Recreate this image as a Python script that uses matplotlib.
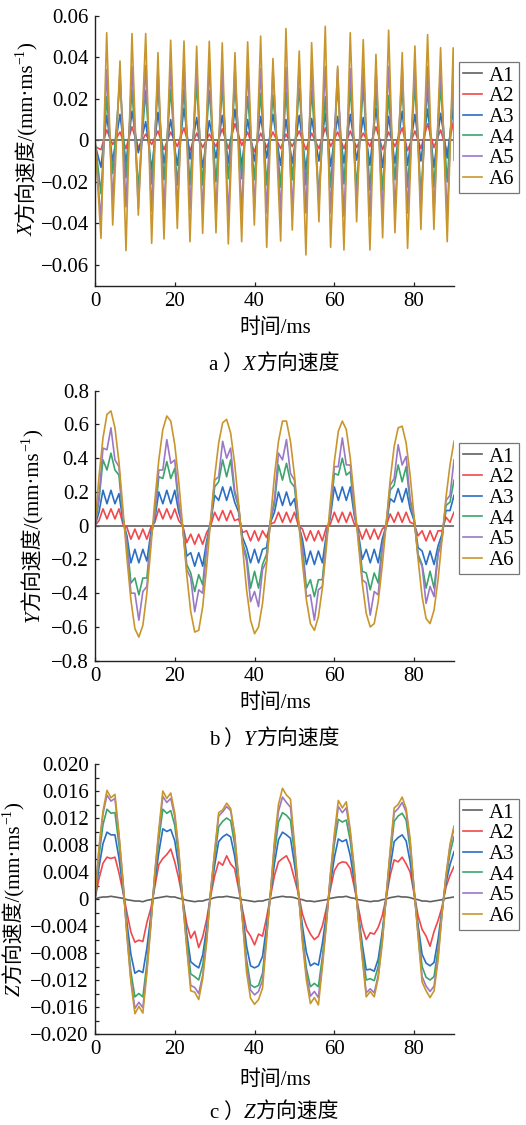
import matplotlib
matplotlib.use("Agg")
import matplotlib.pyplot as plt

FAMILY = ["Liberation Serif", "Noto Sans CJK SC", "DejaVu Serif"]
plt.rcParams.update({
    "font.family": FAMILY,
    "font.size": 15,
    "axes.unicode_minus": True,
    "lines.solid_joinstyle": "round",
})

W, H = 526, 1125
NAMES = ["A1", "A2", "A3", "A4", "A5", "A6"]
COLORS = ["#606060", "#F0484B", "#2A6EC6", "#3BA56B", "#9A78C8", "#C8962D"]
LW = 1.2

# ---------------- a) X velocity: read at each trough / crest ----------------
tx_start, tx_end = 0.0, 90.0
tx_min = [1.50, 4.44, 7.77, 10.86, 14.21, 17.29, 20.63, 23.81, 26.99, 30.33,
          33.42, 36.77, 39.94, 43.05, 46.54, 49.45, 52.88, 56.14, 59.07, 62.41,
          65.59, 68.92, 72.11, 75.19, 78.36, 81.70, 84.96, 88.30]
tx_max = [2.93, 6.27, 9.27, 12.71, 15.79, 18.97, 22.31, 25.49, 28.65, 31.90,
          35.09, 38.27, 41.53, 44.61, 47.87, 51.20, 54.31, 57.73, 60.83, 63.99,
          67.25, 70.43, 73.61, 77.02, 80.20, 83.38, 86.64, 89.80]

vx6_min = [-0.0472, -0.0408, -0.0531, -0.0360, -0.0496, -0.0475, -0.0424, -0.0488, -0.0448, -0.0445,
           -0.0499, -0.0488, -0.0408, -0.0515, -0.0485, -0.0432, -0.0552, -0.0392, -0.0515, -0.0528,
           -0.0392, -0.0528, -0.0469, -0.0445, -0.0520, -0.0429, -0.0429, -0.0488]
vx6_max = [0.0518, 0.0382, 0.0514, 0.0514, 0.0422, 0.0482, 0.0478, 0.0453, 0.0477, 0.0469,
           0.0422, 0.0474, 0.0502, 0.0394, 0.0538, 0.0430, 0.0470, 0.0549, 0.0357, 0.0518,
           0.0485, 0.0414, 0.0530, 0.0422, 0.0454, 0.0509, 0.0446, 0.0445]
vx5_min = [-0.0390, -0.0290, -0.0320, -0.0330, -0.0340, -0.0335, -0.0330, -0.0335, -0.0350, -0.0350,
           -0.0365, -0.0350, -0.0320, -0.0350, -0.0350, -0.0335, -0.0350, -0.0310, -0.0350, -0.0365,
           -0.0310, -0.0365, -0.0350, -0.0335, -0.0350, -0.0345, -0.0345, -0.0365]
vx5_max = [0.0340, 0.0330, 0.0355, 0.0360, 0.0345, 0.0350, 0.0355, 0.0360, 0.0360, 0.0340,
           0.0355, 0.0345, 0.0345, 0.0345, 0.0350, 0.0360, 0.0340, 0.0355, 0.0345, 0.0345,
           0.0350, 0.0340, 0.0355, 0.0355, 0.0355, 0.0355, 0.0350, 0.0350]
vx4_min = [-0.0257, -0.0160, -0.0180, -0.0230, -0.0210, -0.0190, -0.0215, -0.0215, -0.0215, -0.0200,
           -0.0185, -0.0185, -0.0190, -0.0215, -0.0225, -0.0190, -0.0215, -0.0260, -0.0225, -0.0210,
           -0.0230, -0.0240, -0.0240, -0.0190, -0.0225, -0.0265, -0.0225, -0.0200]
vx4_max = [0.0210, 0.0287, 0.0245, 0.0240, 0.0260, 0.0245, 0.0245, 0.0270, 0.0240, 0.0255,
           0.0260, 0.0210, 0.0226, 0.0218, 0.0234, 0.0250, 0.0240, 0.0210, 0.0260, 0.0255,
           0.0260, 0.0240, 0.0215, 0.0255, 0.0266, 0.0255, 0.0260, 0.0255]
vx3_min = [-0.0130, -0.0100, -0.0110, -0.0060, -0.0140, -0.0110, -0.0120, -0.0090, -0.0130, -0.0085,
           -0.0110, -0.0120, -0.0100, -0.0085, -0.0120, -0.0110, -0.0140, -0.0100, -0.0125, -0.0110,
           -0.0095, -0.0120, -0.0130, -0.0110, -0.0120, -0.0100, -0.0130, -0.0085]
vx3_max = [0.0120, 0.0125, 0.0140, 0.0090, 0.0135, 0.0100, 0.0155, 0.0110, 0.0095, 0.0120,
           0.0150, 0.0100, 0.0115, 0.0125, 0.0100, 0.0120, 0.0105, 0.0130, 0.0115, 0.0125,
           0.0110, 0.0155, 0.0115, 0.0140, 0.0125, 0.0150, 0.0130, 0.0155]
vx2_min = [-0.0045, -0.0020, -0.0040, -0.0035, -0.0020, -0.0045, -0.0030, -0.0050, -0.0035, -0.0030,
           -0.0040, -0.0025, -0.0055, -0.0035, -0.0040, -0.0030, -0.0045, -0.0040, -0.0030, -0.0040,
           -0.0035, -0.0030, -0.0045, -0.0030, -0.0050, -0.0040, -0.0035, -0.0060]
vx2_max = [0.0050, 0.0040, 0.0065, 0.0030, 0.0045, 0.0040, 0.0060, 0.0035, 0.0030, 0.0055,
           0.0080, 0.0040, 0.0035, 0.0040, 0.0030, 0.0045, 0.0035, 0.0060, 0.0040, 0.0045,
           0.0035, 0.0065, 0.0040, 0.0060, 0.0045, 0.0080, 0.0050, 0.0085]
vx_first = [0.0, -0.003, -0.002, 0.0, 0.0, 0.0]      # A1..A6 at t = 0
vx_last = [0.0, 0.006, 0.008, 0.012, 0.010, -0.0095]  # A1..A6 at t = 90

# ---------------- b) Y velocity, sampled every 1 ms ----------------
ty = list(range(0, 91))
vy6 = [0.00, 0.29, 0.52, 0.66, 0.68, 0.58, 0.38, 0.10, -0.19, -0.44,
       -0.61, -0.66, -0.59, -0.40, -0.13, 0.15, 0.39, 0.57, 0.65, 0.62,
       0.48, 0.26, -0.01, -0.29, -0.51, -0.63, -0.62, -0.48, -0.24, 0.04,
       0.29, 0.49, 0.61, 0.63, 0.55, 0.37, 0.13, -0.13, -0.38, -0.56,
       -0.64, -0.60, -0.46, -0.23, 0.04, 0.30, 0.50, 0.62, 0.62, 0.50,
       0.30, 0.04, -0.22, -0.44, -0.58, -0.62, -0.54, -0.37, -0.13, 0.14,
       0.38, 0.56, 0.62, 0.57, 0.40, 0.16, -0.10, -0.34, -0.52, -0.60,
       -0.58, -0.45, -0.24, 0.01, 0.27, 0.47, 0.58, 0.59, 0.49, 0.30,
       0.05, -0.20, -0.42, -0.55, -0.58, -0.50, -0.32, -0.08, 0.17, 0.36,
       0.50]
vy5 = [0.00, 0.17, 0.46, 0.45, 0.58, 0.39, 0.35, 0.06, -0.11, -0.40,
       -0.40, -0.56, -0.39, -0.36, -0.08, 0.07, 0.33, 0.33, 0.51, 0.37,
       0.39, 0.13, -0.01, -0.26, -0.31, -0.51, -0.38, -0.40, -0.13, 0.02,
       0.27, 0.29, 0.50, 0.40, 0.46, 0.21, 0.12, -0.11, -0.21, -0.45,
       -0.39, -0.48, -0.26, -0.21, 0.03, 0.16, 0.43, 0.39, 0.51, 0.31,
       0.27, 0.02, -0.14, -0.42, -0.41, -0.56, -0.38, -0.36, -0.08, 0.08,
       0.35, 0.35, 0.52, 0.36, 0.36, 0.09, -0.06, -0.32, -0.34, -0.53,
       -0.39, -0.41, -0.14, 0.01, 0.24, 0.28, 0.48, 0.36, 0.41, 0.16,
       0.05, -0.19, -0.24, -0.46, -0.36, -0.42, -0.17, -0.08, 0.15, 0.18,
       0.39]
vy4 = [0.00, 0.15, 0.39, 0.33, 0.43, 0.33, 0.30, 0.05, -0.09, -0.34,
       -0.31, -0.41, -0.31, -0.31, -0.07, 0.06, 0.29, 0.28, 0.38, 0.28,
       0.34, 0.12, -0.01, -0.23, -0.28, -0.39, -0.29, -0.35, -0.11, 0.02,
       0.23, 0.26, 0.39, 0.29, 0.39, 0.19, 0.11, -0.10, -0.18, -0.37,
       -0.27, -0.37, -0.23, -0.17, 0.03, 0.13, 0.36, 0.27, 0.37, 0.26,
       0.23, 0.02, -0.12, -0.37, -0.32, -0.42, -0.32, -0.32, -0.07, 0.07,
       0.31, 0.30, 0.40, 0.30, 0.32, 0.08, -0.05, -0.27, -0.28, -0.38,
       -0.28, -0.34, -0.12, 0.00, 0.21, 0.24, 0.36, 0.26, 0.35, 0.14,
       0.04, -0.17, -0.23, -0.37, -0.27, -0.37, -0.16, -0.07, 0.12, 0.14,
       0.27]
vy3 = [0.00, 0.08, 0.21, 0.13, 0.21, 0.13, 0.19, 0.03, -0.06, -0.22,
       -0.14, -0.22, -0.14, -0.21, -0.04, 0.04, 0.20, 0.13, 0.21, 0.13,
       0.21, 0.08, 0.00, -0.18, -0.16, -0.24, -0.16, -0.24, -0.09, 0.02,
       0.18, 0.15, 0.23, 0.15, 0.23, 0.14, 0.08, -0.07, -0.13, -0.22,
       -0.14, -0.22, -0.14, -0.13, 0.02, 0.08, 0.20, 0.12, 0.20, 0.12,
       0.16, 0.01, -0.08, -0.23, -0.15, -0.23, -0.15, -0.22, -0.05, 0.05,
       0.23, 0.15, 0.23, 0.15, 0.23, 0.06, -0.04, -0.20, -0.14, -0.22,
       -0.14, -0.22, -0.08, 0.00, 0.16, 0.14, 0.22, 0.14, 0.22, 0.10,
       0.03, -0.13, -0.15, -0.23, -0.15, -0.23, -0.12, -0.05, 0.09, 0.09,
       0.18]
vy2 = [0.00, 0.03, 0.10, 0.04, 0.10, 0.04, 0.10, 0.01, -0.01, -0.08,
       -0.02, -0.08, -0.02, -0.08, -0.01, 0.02, 0.10, 0.04, 0.10, 0.04,
       0.10, 0.03, 0.00, -0.10, -0.05, -0.11, -0.05, -0.11, -0.04, 0.00,
       0.08, 0.03, 0.09, 0.03, 0.09, 0.03, 0.04, -0.04, -0.03, -0.09,
       -0.03, -0.09, -0.03, -0.07, 0.01, 0.02, 0.08, 0.02, 0.08, 0.02,
       0.08, 0.00, -0.02, -0.09, -0.03, -0.09, -0.03, -0.09, -0.01, 0.01,
       0.08, 0.02, 0.08, 0.02, 0.08, 0.01, -0.01, -0.08, -0.02, -0.08,
       -0.02, -0.08, -0.02, 0.00, 0.07, 0.02, 0.08, 0.02, 0.08, 0.02,
       0.01, -0.06, -0.03, -0.09, -0.03, -0.09, -0.03, -0.03, 0.05, 0.02,
       0.08]
ty1, vy1 = [0, 90], [0.0, 0.0]

# ---------------- c) Z velocity, sampled every 1 ms, in 1e-4 mm/ms ----------------
tz = list(range(0, 91))
vz6 = [0, 76, 130, 161, 150, 155, 97, 28, -54, -123,
       -170, -159, -169, -109, -39, 40, 102, 160, 149, 157,
       127, 72, -4, -72, -136, -138, -149, -118, -63, 12,
       71, 128, 132, 142, 134, 97, 31, -34, -109, -147,
       -156, -149, -132, -61, 10, 87, 140, 164, 154, 148,
       83, 12, -64, -120, -155, -146, -157, -101, -38, 36,
       96, 146, 135, 144, 102, 45, -30, -87, -145, -137,
       -145, -117, -66, 4, 72, 135, 140, 151, 134, 89,
       14, -55, -123, -136, -146, -136, -91, -22, 35, 81,
       108]
vz5 = [0, 73, 126, 154, 145, 149, 94, 27, -52, -119,
       -162, -153, -161, -105, -37, 38, 98, 152, 143, 149,
       122, 69, -4, -69, -128, -131, -140, -113, -59, 12,
       69, 123, 129, 137, 131, 94, 30, -31, -99, -135,
       -142, -137, -120, -56, 9, 81, 130, 151, 143, 136,
       77, 11, -60, -112, -144, -137, -146, -95, -35, 34,
       91, 137, 128, 135, 97, 42, -28, -85, -139, -133,
       -139, -113, -64, 4, 69, 128, 134, 143, 129, 84,
       13, -53, -115, -129, -137, -129, -85, -20, 34, 78,
       105]
vz4 = [0, 63, 110, 133, 127, 128, 81, 22, -47, -108,
       -145, -140, -145, -96, -33, 33, 88, 133, 127, 131,
       109, 61, -2, -60, -111, -115, -120, -98, -52, 9,
       62, 107, 115, 120, 116, 81, 27, -30, -90, -127,
       -131, -128, -110, -52, 9, 69, 114, 128, 124, 117,
       67, 9, -53, -103, -130, -125, -130, -86, -31, 29,
       81, 118, 114, 117, 86, 36, -24, -76, -120, -118,
       -121, -100, -55, 3, 63, 115, 123, 127, 117, 74,
       13, -47, -100, -116, -120, -115, -74, -19, 31, 68,
       92]
vz3 = [0, 47, 82, 99, 95, 95, 61, 16, -35, -82,
       -110, -106, -109, -73, -25, 26, 69, 104, 100, 103,
       86, 47, -2, -51, -93, -98, -102, -83, -43, 8,
       50, 85, 92, 96, 92, 64, 23, -23, -70, -99,
       -102, -99, -85, -41, 7, 53, 88, 99, 95, 90,
       52, 7, -40, -79, -99, -95, -98, -66, -23, 22,
       61, 89, 85, 88, 64, 26, -21, -67, -105, -104,
       -107, -89, -49, 2, 47, 85, 91, 95, 86, 55,
       9, -39, -82, -95, -99, -94, -60, -16, 24, 51,
       70]
vz2 = [0, 30, 53, 62, 60, 62, 39, 11, -20, -49,
       -64, -61, -63, -35, -14, 18, 51, 60, 66, 74,
       55, 30, -1, -37, -58, -48, -72, -56, -30, 5,
       34, 55, 50, 64, 52, 45, 15, -16, -46, -55,
       -68, -52, -55, -28, 4, 35, 55, 60, 64, 52,
       30, 8, -22, -40, -52, -60, -55, -40, -14, 14,
       42, 52, 55, 54, 45, 18, -12, -42, -60, -50,
       -52, -42, -25, 2, 35, 58, 55, 62, 52, 40,
       8, -25, -45, -55, -70, -48, -32, -12, 18, 35,
       48]
vz1 = [0, 2, 3, 3, 4, 3, 2, 1, -1, -2,
       -3, -3, -4, -2, -1, 1, 2, 3, 4, 3,
       3, 1, 0, -2, -3, -4, -3, -3, -1, 0,
       2, 3, 3, 4, 3, 2, 1, -1, -2, -3,
       -4, -3, -3, -1, 0, 2, 3, 4, 3, 3,
       2, 0, -1, -3, -3, -4, -3, -2, -1, 1,
       2, 3, 3, 4, 2, 1, -1, -2, -3, -4,
       -3, -3, -1, 0, 2, 3, 4, 3, 3, 2,
       0, -1, -3, -3, -4, -3, -2, -1, 1, 2,
       3]
Z_UNIT = 1e-4

# tick values / labels
xticks = [0, 20, 40, 60, 80]
xticklabels = ["0", "20", "40", "60", "80"]
yticks_a = [-0.06, -0.04, -0.02, 0, 0.02, 0.04, 0.06]
ylabels_a = ["\u22120.06", "\u22120.04", "\u22120.02", "0", "0.02", "0.04", "0.06"]
yticks_b = [-0.8, -0.6, -0.4, -0.2, 0, 0.2, 0.4, 0.6, 0.8]
ylabels_b = ["\u22120.8", "\u22120.6", "\u22120.4", "\u22120.2", "0", "0.2", "0.4", "0.6", "0.8"]
yticks_c = [-0.020, -0.016, -0.012, -0.008, -0.004, 0, 0.004, 0.008, 0.012, 0.016, 0.020]
ylabels_c = ["\u22120.020", "\u22120.016", "\u22120.012", "\u22120.008", "\u22120.004", "0",
             "0.004", "0.008", "0.012", "0.016", "0.020"]
yminor_c = [-0.018, -0.014, -0.010, -0.006, -0.002, 0.002, 0.006, 0.010, 0.014, 0.018]


def interleave(first, lows, highs, last):
    out = [first]
    for lo, hi in zip(lows, highs):
        out += [lo, hi]
    return out + [last]


fig = plt.figure(figsize=(W / 100, H / 100), dpi=100)


def make_axes(top_px, bottom_px):
    return fig.add_axes([95 / W, 1 - bottom_px / H, 359 / W, (bottom_px - top_px) / H])


def style_axes(ax, yticks, ylabels, ylim):
    ax.set_xlim(0, 90)
    ax.set_ylim(*ylim)
    ax.set_xticks(xticks)
    ax.set_xticklabels(xticklabels)
    ax.set_yticks(yticks)
    ax.set_yticklabels(ylabels)
    ax.tick_params(direction="in", length=3.2, width=0.9, labelsize=15, pad=4.5,
                   color="#222222")
    for s in ["top", "right"]:
        ax.spines[s].set_visible(False)
    for s in ["left", "bottom"]:
        ax.spines[s].set_linewidth(1.0)
        ax.spines[s].set_color("#222222")


def add_legend(ax, top_px):
    leg = ax.legend(loc="upper left", bbox_to_anchor=(459 / W, 1 - top_px / H),
                    bbox_transform=fig.transFigure, frameon=True, fancybox=False,
                    edgecolor="#777777", framealpha=1, borderpad=0.2,
                    handlelength=0.9, handletextpad=0.35, labelspacing=0.05,
                    borderaxespad=0, fontsize=15)
    leg.get_frame().set_linewidth(0.9)


def rich_text(ax, parts, x, y, rotation=0):
    # parts: (text, italic, size, rise, kern) -- rise/kern in points
    arts, prev = [], None
    for s, italic, size, rise, kern in parts:
        if prev is None:
            xy, xyc = (x, y), "figure fraction"
        elif rotation:
            xy, xyc = (x, 1), ("figure fraction", prev)
        else:
            xy, xyc = (1, y), (prev, "figure fraction")
        off = (-rise, kern) if rotation else (kern, rise)
        t = ax.annotate(s, xy=xy, xycoords=xyc, xytext=off, textcoords="offset points",
                        rotation=rotation, rotation_mode="anchor", ha="left",
                        va="baseline", fontsize=size,
                        fontstyle="italic" if italic else "normal",
                        family=FAMILY, annotation_clip=False)
        arts.append(t)
        prev = t
    return arts


def ylabel_parts(letter):
    return [(letter, True, 15, 0, 0), ("方向速度/(mm·ms", False, 15, 0, 0),
            ("\u22121", False, 10, 6, 0), (")", False, 15, 0, 0)]


def caption_parts(tag, letter):
    return [(tag, False, 15, 0, 0), ("）", False, 15, 0, 3), (letter, True, 15, 0, 0),
            ("方向速度", False, 15, 0, 0)]


# ---------------- panel a ----------------
ax_a = make_axes(15.7, 285.7)
tx = [tx_start] + [v for p in zip(tx_min, tx_max) for v in p] + [tx_end]
vx = [
    interleave(vx_first[0], [0.0] * 28, [0.0] * 28, vx_last[0]),
    interleave(vx_first[1], vx2_min, vx2_max, vx_last[1]),
    interleave(vx_first[2], vx3_min, vx3_max, vx_last[2]),
    interleave(vx_first[3], vx4_min, vx4_max, vx_last[3]),
    interleave(vx_first[4], vx5_min, vx5_max, vx_last[4]),
    interleave(vx_first[5], vx6_min, vx6_max, vx_last[5]),
]
for name, color, vals in zip(NAMES, COLORS, vx):
    ax_a.plot(tx, vals, color=color, lw=LW, label=name)
style_axes(ax_a, yticks_a, ylabels_a, (-0.07, 0.06))
add_legend(ax_a, 62)

# ---------------- panel b ----------------
ax_b = make_axes(390.7, 660.7)
ax_b.plot(ty1, vy1, color=COLORS[0], lw=LW, label=NAMES[0])
for name, color, vals in zip(NAMES[1:], COLORS[1:], [vy2, vy3, vy4, vy5, vy6]):
    ax_b.plot(ty, vals, color=color, lw=LW, label=name)
style_axes(ax_b, yticks_b, ylabels_b, (-0.8, 0.8))
add_legend(ax_b, 443)

# ---------------- panel c ----------------
ax_c = make_axes(764, 1034)
for name, color, vals in zip(NAMES, COLORS, [vz1, vz2, vz3, vz4, vz5, vz6]):
    ax_c.plot(tz, [v * Z_UNIT for v in vals], color=color, lw=LW, label=name)
style_axes(ax_c, yticks_c, ylabels_c, (-0.020, 0.020))
ax_c.set_yticks(yminor_c, minor=True)
ax_c.tick_params(which="minor", direction="in", length=3.2, width=0.9, color="#222222")
add_legend(ax_c, 799)

# ---------------- labels and captions ----------------
groups = []
for ax, letter, tag, ylab_x, ylab_cy, xl_base, cap_base in [
    (ax_a, "X", "a", 32.5, 139, 333, 370),
    (ax_b, "Y", "b", 39, 525.7, 708, 745),
    (ax_c, "Z", "c", 20, 899, 1085, 1118),
]:
    ylab = rich_text(ax, ylabel_parts(letter), ylab_x / W, 1 - ylab_cy / H, rotation=90)
    cap = rich_text(ax, caption_parts(tag, letter), 200 / W, 1 - cap_base / H)
    fig.text(275 / W, 1 - xl_base / H, "时间/ms", ha="center", va="baseline",
             fontsize=15, family=FAMILY)
    groups.append((ylab, ylab_cy, "v"))
    groups.append((cap, 274, "h"))

# centre the multi-style texts once their sizes are known
fig.canvas.draw()
renderer = fig.canvas.get_renderer()
for arts, target, mode in groups:
    boxes = [a.get_window_extent(renderer) for a in arts]
    x0, y0 = arts[0].xy
    if mode == "h":
        cx = (min(b.x0 for b in boxes) + max(b.x1 for b in boxes)) / 2
        arts[0].xy = (x0 + (target - cx) / W, y0)
    else:
        cy = (min(b.y0 for b in boxes) + max(b.y1 for b in boxes)) / 2
        arts[0].xy = (x0, y0 + ((H - target) - cy) / H)

fig.savefig("out.png", dpi=100)
